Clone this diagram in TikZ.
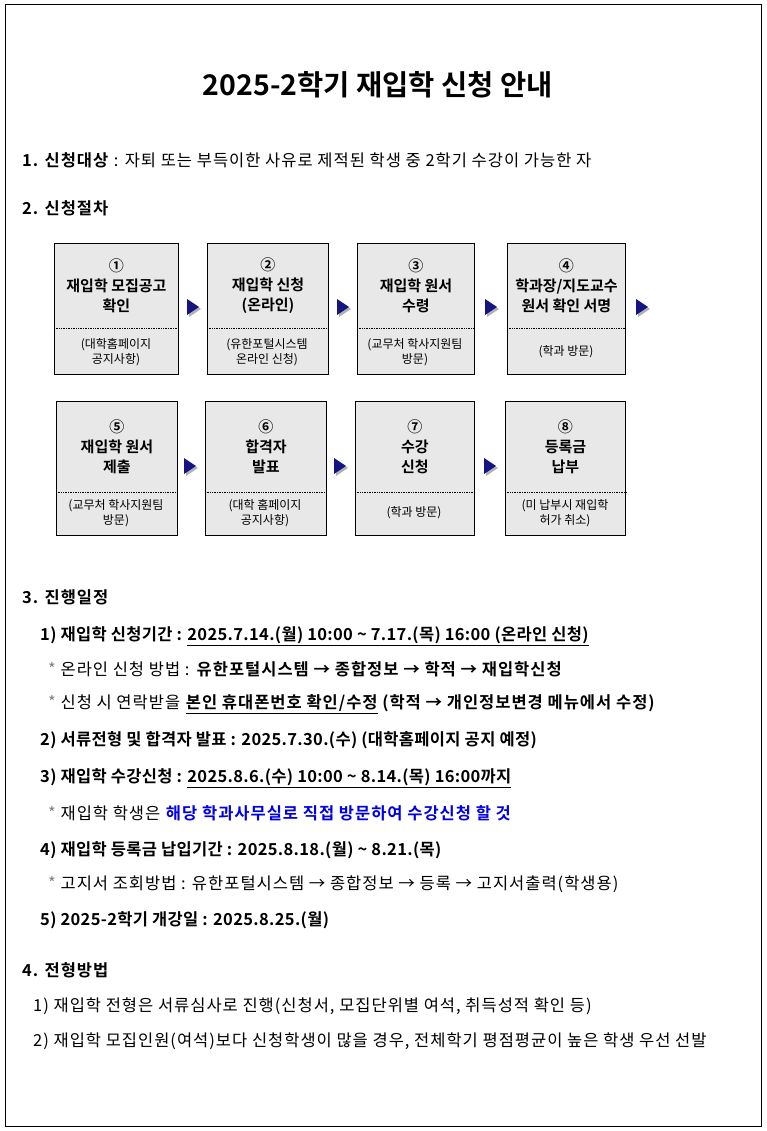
\documentclass[tikz,border=0pt]{standalone}
\usepackage{fontspec}
\setmainfont{Noto Sans CJK KR}[BoldFont={Noto Sans CJK KR Bold}]
\usetikzlibrary{calc}
\definecolor{boxgray}{RGB}{232,232,232}
\definecolor{navy}{RGB}{20,20,130}
\definecolor{bluetxt}{RGB}{0,0,230}
\tikzset{
  txt/.style={anchor=west,inner sep=0pt,font=\fontsize{16.5}{18}\selectfont\addfontfeatures{LetterSpace=6}},
  btxt/.style={anchor=west,inner sep=0pt,font=\bfseries\fontsize{16.5}{18}\selectfont\addfontfeatures{LetterSpace=2}},
  stepbox/.style={draw,line width=0.9pt,fill=boxgray},
  mainlbl/.style={align=center,font=\bfseries\fontsize{15}{20}\selectfont,inner sep=0pt},
  sublbl/.style={align=center,font=\fontsize{12}{15}\selectfont,inner sep=0pt},
}
\newcommand{\flowbox}[7]{% name, x1, y1, x2, y2, ydot, main
  \node[stepbox,minimum width=#4-#2,minimum height=#5-#3,anchor=north west,inner sep=0pt] (#1) at (#2,#3) {};
  \draw[densely dotted,line width=0.7pt] (#1.west |- 0,#6) -- (#1.east |- 0,#6);
  \node[mainlbl] (#1m) at ($(#1.north)!0.5!(#1.north |- 0,#6)$) {#7};
}
\newcommand{\arrowtri}[3]{% name x y
  \coordinate (#1) at (#2,#3);
  \fill[gray!60] ($(#1)+(2,-6)$) -- ++(12,8) -- ++(-12,8) -- cycle;
  \fill[navy] ($(#1)+(0,-8)$) -- ++(12,8) -- ++(-12,8) -- cycle;
}
\begin{document}
\begin{tikzpicture}[x=1pt,y=-1pt]
\useasboundingbox (0,0) rectangle (767,1131);
\draw[line width=1pt] (5,5) rectangle (761,1126);
\node[font=\bfseries\fontsize{28.5}{32}\selectfont] (title) at (378,85) {2025-2학기 재입학 신청 안내};
\node[txt] (s1) at (22,160) {\textbf{1. 신청대상} : 자퇴 또는 부득이한 사유로 제적된 학생 중 2학기 수강이 가능한 자};
\node[txt] (s2) at (22,208) {\textbf{2. 신청절차}};
% row 1
\flowbox{b1}{54}{243}{178}{374}{328}{①\\재입학 모집공고\\확인}
\node[sublbl] at (116,352) {(대학홈페이지\\공지사항)};
\flowbox{b2}{207}{243}{328}{374}{328}{②\\재입학 신청\\(온라인)}
\node[sublbl] at (267,352) {(유한포털시스템\\온라인 신청)};
\flowbox{b3}{357}{243}{474}{374}{328}{③\\재입학 원서\\수령}
\node[sublbl] at (415,352) {(교무처 학사지원팀\\방문)};
\flowbox{b4}{507}{243}{625}{374}{328}{④\\학과장/지도교수\\원서 확인 서명}
\node[sublbl] at (566,352) {(학과 방문)};
\arrowtri{a1}{187}{307}\arrowtri{a2}{337}{307}\arrowtri{a3}{485}{307}\arrowtri{a4}{636}{307}
% row 2
\flowbox{b5}{56}{401}{177}{535}{492}{⑤\\재입학 원서\\제출}
\node[sublbl] at (116,513) {(교무처 학사지원팀\\방문)};
\flowbox{b6}{205}{401}{326}{535}{492}{⑥\\합격자\\발표}
\node[sublbl] at (265,513) {(대학 홈페이지\\공지사항)};
\flowbox{b7}{355}{401}{474}{535}{492}{⑦\\수강\\신청}
\node[sublbl] at (414,513) {(학과 방문)};
\flowbox{b8}{505}{401}{625}{535}{492}{⑧\\등록금\\납부}
\node[sublbl] at (565,513) {(미 납부시 재입학\\허가 취소)};
\arrowtri{a5}{184}{466}\arrowtri{a6}{334}{466}\arrowtri{a7}{484}{466}
% section 3
\node[txt] (s3) at (22,597) {\textbf{3. 진행일정}};
\node[btxt] (l1) at (40,636) {1) 재입학 신청기간 : \underline{2025.7.14.(월) 10:00 \textasciitilde{} 7.17.(목) 16:00 (온라인 신청)}};
\node[txt] (l2) at (48,669) {{\color{gray}*} 온라인 신청 방법 : \textbf{유한포털시스템 → 종합정보 → 학적 → 재입학신청}};
\node[txt] (l3) at (48,704) {{\color{gray}*} 신청 시 연락받을 \textbf{\underline{본인 휴대폰번호 확인/수정} (학적 → 개인정보변경 메뉴에서 수정)}};
\node[btxt] (l4) at (40,740) {2) 서류전형 및 합격자 발표 : 2025.7.30.(수) (대학홈페이지 공지 예정)};
\node[btxt] (l5) at (40,778) {3) 재입학 수강신청 : \underline{2025.8.6.(수) 10:00 \textasciitilde{} 8.14.(목) 16:00까지}};
\node[txt] (l6) at (48,813) {{\color{gray}*} 재입학 학생은 \textbf{\color{bluetxt}해당 학과사무실로 직접 방문하여 수강신청 할 것}};
\node[btxt] (l7) at (40,850) {4) 재입학 등록금 납입기간 : 2025.8.18.(월) \textasciitilde{} 8.21.(목)};
\node[txt] (l8) at (48,884) {{\color{gray}*} 고지서 조회방법 : 유한포털시스템 → 종합정보 → 등록 → 고지서출력(학생용)};
\node[btxt] (l9) at (40,920) {5) 2025-2학기 개강일 : 2025.8.25.(월)};
% section 4
\node[txt] (s4) at (22,970) {\textbf{4. 전형방법}};
\node[txt] (m1) at (33,1006) {1) 재입학 전형은 서류심사로 진행(신청서, 모집단위별 여석, 취득성적 확인 등)};
\node[txt] (m2) at (33,1041) {2) 재입학 모집인원(여석)보다 신청학생이 많을 경우, 전체학기 평점평균이 높은 학생 우선 선발};
\end{tikzpicture}
\end{document}
